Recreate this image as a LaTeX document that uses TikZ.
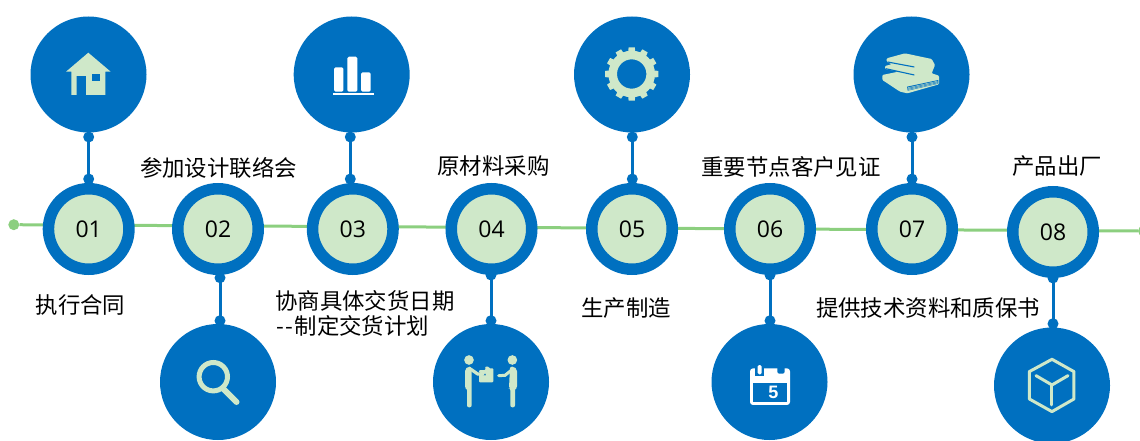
\documentclass[tikz,border=0pt]{standalone}
\usepackage{fontspec}
\setmainfont{Open Sans}
\newfontfamily\cjkfont{Noto Sans CJK SC}
\newfontfamily\boldsans{Liberation Sans}
\definecolor{mainblue}{HTML}{0070C0}
\definecolor{leaf}{HTML}{CFE8C9}
\definecolor{track}{HTML}{8CCF7F}
\tikzset{
  numnode/.style={circle,draw=mainblue,fill=leaf,line width=11.5pt,minimum size=80.5pt,inner sep=0pt,font=\fontsize{23}{23}\selectfont,text=black},
  bignode/.style={circle,fill=mainblue,minimum size=116pt,inner sep=0pt},
  linkdot/.style={circle,fill=mainblue,minimum size=11pt,inner sep=0pt},
  trackdot/.style={circle,fill=track,minimum size=11pt,inner sep=0pt},
  trackline/.style={draw=track,line width=3pt},
  linkline/.style={draw=mainblue,line width=3pt},
  lab/.style={inner sep=0pt,font=\cjkfont\fontsize{22.4}{25}\selectfont,text=black},
  zoomed/.style 2 args={shift={(#1,#2)},x=0.3333pt,y=-0.3333pt},
}
\begin{document}
\begin{tikzpicture}[x=1pt,y=-1pt]
\path[use as bounding box] (0,0) rectangle (1140,441);
\clip (0,0) rectangle (1140,441);
% track
\node[trackdot] (start) at (13.8,224.7) {};
\node[trackdot] (end) at (1143.5,231) {};
\draw[trackline] (start) -- (end);
% large circles
\node[bignode] (b1) at (88.5,74.5) {};
\node[bignode] (b2) at (218,382) {};
\node[bignode] (b3) at (351.7,74.5) {};
\node[bignode] (b4) at (491,382) {};
\node[bignode] (b5) at (632,74.5) {};
\node[bignode] (b6) at (769.5,382) {};
\node[bignode] (b7) at (911.5,74.5) {};
\node[bignode] (b8) at (1052,385.5) {};
% number circles
\node[numnode] (n1) at (88.7,229) {01};
\node[numnode] (n2) at (218,229) {02};
\node[numnode] (n3) at (352.8,229) {03};
\node[numnode] (n4) at (491.5,229) {04};
\node[numnode] (n5) at (632,229) {05};
\node[numnode] (n6) at (770,229) {06};
\node[numnode] (n7) at (912,229) {07};
\node[numnode] (n8) at (1053,232) {08};
% link dots and lines
\node[linkdot] (a1) at (88.7,137) {}; \node[linkdot] (c1) at (88.7,179) {};
\node[linkdot] (a3) at (350.3,137) {}; \node[linkdot] (c3) at (350.3,179) {};
\node[linkdot] (a5) at (632.3,137) {}; \node[linkdot] (c5) at (632.3,179) {};
\node[linkdot] (a7) at (912,137) {}; \node[linkdot] (c7) at (912,179) {};
\node[linkdot] (a2) at (220,277.7) {}; \node[linkdot] (c2) at (220,320.7) {};
\node[linkdot] (a4) at (491,275) {}; \node[linkdot] (c4) at (491,320.7) {};
\node[linkdot] (a6) at (770,275) {}; \node[linkdot] (c6) at (770,320.7) {};
\node[linkdot] (a8) at (1053,278) {}; \node[linkdot] (c8) at (1053,323.7) {};
\foreach \i in {1,...,8} \draw[linkline] (a\i.center) -- (c\i.center);
% labels
\node[lab] (l1) at (80.5,305) {执行合同};
\node[lab] (l2) at (218.5,168) {参加设计联络会};
\node[lab,align=left,anchor=west] (l3) at (275,313.5) {协商具体交货日期\\\kern1pt-\kern1.5pt-\kern1.5pt制定交货计划};
\node[lab] (l4) at (493.5,166) {原材料采购};
\node[lab] (l5) at (626,308) {生产制造};
\node[lab] (l6) at (791,167) {重要节点客户见证};
\node[lab] (l7) at (928,308) {提供技术资料和质保书};
\node[lab] (l8) at (1057,166) {产品出厂};
% house
\fill[leaf] (88.3,52.7) -- (110.7,71.7) -- (105.3,71.7) -- (105.3,95) -- (86,95) -- (86,76) -- (76.7,76) -- (76.7,95) -- (71.3,95) -- (71.3,71.7) -- (66,71.7) -- cycle;
\fill[mainblue] (91.7,74) rectangle (100,81);
% magnifier
\draw[leaf,line width=5pt] (213.3,376.7) circle (14.2);
\draw[leaf,line width=6pt,line cap=round] (223.5,389) -- (236.5,402);
% bars
\fill[white,rounded corners=1.5pt] (334,91.7) -- (334,67.3) -- (343.3,67.3) -- (343.3,91.7) -- cycle;
\fill[white,rounded corners=1.5pt] (347.3,91.7) -- (347.3,56.7) -- (357.3,56.7) -- (357.3,91.7) -- cycle;
\fill[white,rounded corners=1.5pt] (361,91.7) -- (361,72.3) -- (370.7,72.3) -- (370.7,91.7) -- cycle;
\fill[white] (332.7,92.8) rectangle (374,95);
% gear
\begin{scope}[shift={(631.7,74)}]
  \draw[leaf,line width=8.6pt] (0,0) circle (19);
  \foreach \r in {0,30,...,330}
    \fill[leaf,rotate=\r] (-3.7,-20) -- (-3.1,-26.7) -- (3.1,-26.7) -- (3.7,-20) -- cycle;
\end{scope}
% handshake
\begin{scope}[zoomed={455}{350}]
  \fill[leaf] (42,30) circle (14.5);
  \fill[leaf] (172,30) circle (14.5);
  \fill[leaf,rounded corners=2pt] (30,115) -- (30,58) -- (38,50) -- (50,50) -- (50,172) -- (36,172) -- (36,115) -- cycle;
  \fill[leaf,rounded corners=2pt] (186,115) -- (186,58) -- (178,50) -- (165,50) -- (162,115) -- (166,115) -- (166,172) -- (180,172) -- (180,115) -- cycle;
  \fill[leaf,rounded corners=1pt] (72,60) -- (92,60) -- (90,50) -- (102,50) -- (102,55) -- (115,55) -- (115,97) -- (72,97) -- cycle;
  \draw[mainblue,line width=1.4pt] (52,52) -- (76,72) -- (92,74);
  \draw[leaf,line width=3.2pt,line cap=round] (48,58) -- (68,72) -- (84,72);
  \draw[leaf,line width=3pt,line cap=round] (170,60) -- (150,76) -- (131,77);
\end{scope}
% calendar
\begin{scope}[zoomed={740}{360}]
  \fill[white,rounded corners=3pt] (30,25) rectangle (150,135);
  \fill[mainblue] (38,70) rectangle (142,127);
  \fill[mainblue] (46,15) rectangle (71,48);
  \fill[mainblue,rounded corners=2pt] (112,15) rectangle (134,41);
  \fill[white,rounded corners=1.5pt] (53,15) rectangle (65,43);
  \node[inner sep=0pt,text=white,font=\boldsans\bfseries\fontsize{18}{18}\selectfont] (five) at (100,97) {5};
\end{scope}
% books
\begin{scope}[zoomed={875}{45}]
  \fill[leaf,rounded corners=1pt] (35,40) -- (90,25) -- (170,42) -- (180,60) -- (170,85) -- (192,92) -- (192,118) -- (97,145) -- (75,140) -- (22,105) -- (22,90) -- (70,80) -- (30,72) -- (30,63) -- (50,58) -- (35,50) -- cycle;
  \draw[mainblue,line width=1.1pt] (38,51) -- (118,66);
  \draw[mainblue,line width=1.1pt] (32,71) -- (118,90);
  \fill[mainblue] (96,125) -- (190,105) -- (190,116) -- (98,137) -- cycle;
  \foreach \k in {0,1,2}
    \draw[leaf,line width=0.4pt] (98,{128.5+3.2*\k}) -- (188,{108.5+3.2*\k});
\end{scope}
% cube
\begin{scope}[zoomed={840}{0}]
  \draw[leaf,line width=3pt,line join=round] (636,1078) -- (702,1115) -- (702,1197) -- (636,1235) -- (568,1197) -- (568,1115) -- cycle;
  \draw[leaf,line width=3pt,line cap=round] (588,1127) -- (636,1155) -- (684,1127);
  \draw[leaf,line width=3pt,line cap=round] (636,1155) -- (636,1215);
\end{scope}
\end{tikzpicture}
\end{document}
